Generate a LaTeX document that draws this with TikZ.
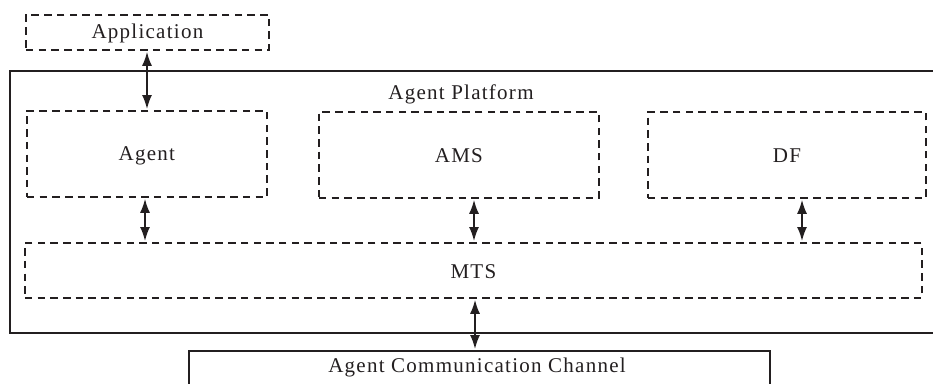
\documentclass[tikz,border=0pt]{standalone}
\usepackage{fontspec}
\setmainfont[LetterSpace=6]{Liberation Serif}
\usetikzlibrary{arrows.meta}
\definecolor{ink}{HTML}{231F20}
\tikzset{
  dashbox/.style={draw=ink, line width=1.8pt, dash pattern=on 7.5pt off 5.2pt,
    rectangle, inner sep=0pt, anchor=north west, text=ink},
  solidbox/.style={draw=ink, line width=1.6pt, rectangle, inner sep=0pt,
    anchor=north west, text=ink},
  link/.style={draw=ink, line width=1.7pt,
    {Latex[length=14pt,width=10pt]}-{Latex[length=14pt,width=10pt]},
    shorten <=1pt, shorten >=1pt},
  lbl/.style={font=\fontsize{21}{24}\selectfont, text=ink}
}
\begin{document}
\begin{tikzpicture}[x=1pt,y=-1pt]
  \clip (0,0) rectangle (933,383);
  \fill[white] (0,0) rectangle (933,383);

  % platform frame, running past the right edge
  \draw[ink, line width=1.6pt] (945,71) -- (10,71) -- (10,333) -- (945,333);
  \node[lbl] (plat) at (461,94) {Agent Platform};

  % boxes
  \node[dashbox, minimum width=243pt, minimum height=35pt] (app) at (25,14) {};
  \node[lbl] at ([yshift=-1pt]app.center) {Application};
  \node[dashbox, minimum width=240pt, minimum height=86pt] (agent) at (26,110) {};
  \node[lbl] at ([yshift=-2pt]agent.center) {Agent};
  \node[dashbox, minimum width=280pt, minimum height=86pt] (ams) at (318,111) {};
  \node[lbl] at ([yshift=-1pt]ams.center) {AMS};
  \node[dashbox, minimum width=278pt, minimum height=86pt] (df) at (647,111) {};
  \node[lbl] at ([yshift=-1pt]df.center) {DF};
  \node[dashbox, minimum width=897pt, minimum height=55pt] (mts) at (24,242) {};
  \node[lbl] at ([yshift=-1pt]mts.center) {MTS};
  \node[solidbox, minimum width=581pt, minimum height=60pt] (acc) at (188,350) {};
  \node[lbl] at (477,367) {Agent Communication Channel};

  % connector positions
  \coordinate (c1) at (147,0);
  \coordinate (c2) at (145,0);
  \coordinate (c3) at (474,0);
  \coordinate (c4) at (802,0);
  \coordinate (c5) at (475,0);

  \draw[link] (app.south -| c1) -- (agent.north -| c1);
  \draw[link] (agent.south -| c2) -- (mts.north -| c2);
  \draw[link] (ams.south -| c3) -- (mts.north -| c3);
  \draw[link] (df.south -| c4) -- (mts.north -| c4);
  \draw[link] (mts.south -| c5) -- (acc.north -| c5);
\end{tikzpicture}
\end{document}
